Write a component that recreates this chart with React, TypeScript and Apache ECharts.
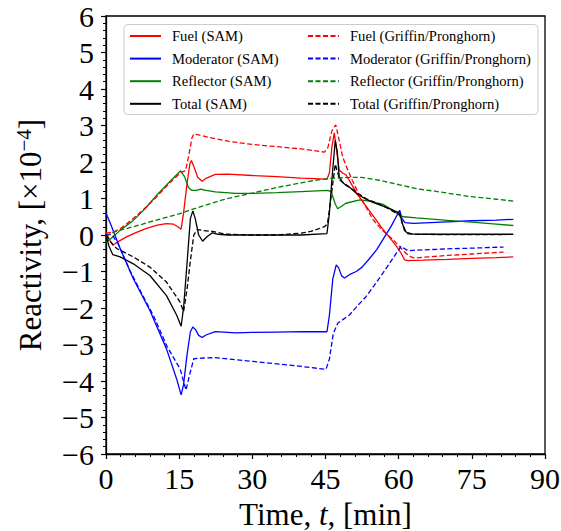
import React, { useEffect, useRef } from "react";
import * as echarts from "echarts";

type P = [number, number];

const xTicks = { min: 0, max: 90, interval: 15 };
const yTicks = { min: -6, max: 6, interval: 1 };

const fuelSAM: P[] = [[0,0.08],[0.6,-0.1],[1.4,-0.28],[2.5,-0.18],[4.2,-0.05],[6,0.06],[8.3,0.18],[10.5,0.27],[12.4,0.31],[13.8,0.3],[14.8,0.22],[15.4,0.16],[15.9,0.6],[16.6,1.4],[17.2,1.95],[17.5,2.04],[18,1.88],[18.8,1.58],[19.7,1.47],[20.6,1.56],[22.4,1.66],[25,1.67],[30,1.63],[35,1.6],[40,1.56],[45.3,1.53],[45.8,1.7],[46.3,2.4],[46.8,2.8],[47.3,2.3],[47.8,1.78],[48.5,1.7],[49.2,1.65],[50.2,1.42],[51.5,1.12],[53.3,0.79],[55,0.48],[56.8,0.15],[58.2,-0.08],[59.5,-0.3],[60.5,-0.5],[61.2,-0.68],[62,-0.7],[65,-0.69],[70,-0.67],[75,-0.64],[80,-0.62],[83.5,-0.6]];
const fuelGP: P[] = [[0,0.05],[1.5,0.08],[3,0.18],[5.6,0.45],[8,0.74],[10.4,1.05],[12.5,1.35],[14,1.55],[15.5,1.72],[16.3,1.76],[17,2.2],[17.6,2.65],[18,2.77],[19,2.74],[21,2.68],[25,2.57],[30,2.48],[35,2.42],[40,2.36],[44.8,2.27],[45.5,2.4],[46.3,2.85],[47.1,3.02],[47.8,2.6],[48.5,2.15],[49.2,1.9],[50.5,1.5],[52,1.07],[53.5,0.72],[54.7,0.43],[56.5,0.15],[58.8,-0.12],[60.4,-0.35],[61.5,-0.5],[62.5,-0.6],[63.3,-0.63],[66,-0.6],[70,-0.56],[75,-0.52],[80,-0.48],[81.5,-0.47]];
const modSAM: P[] = [[0,0.6],[1,0.28],[2.9,-0.37],[5.6,-1.2],[9,-2.07],[12.4,-3.12],[14.5,-3.95],[15.4,-4.38],[15.9,-4.1],[16.6,-3.3],[17.3,-2.65],[17.8,-2.52],[18.4,-2.6],[19,-2.75],[19.7,-2.81],[20.5,-2.74],[22.4,-2.65],[26.6,-2.68],[30,-2.67],[35,-2.66],[40,-2.65],[45.3,-2.65],[45.8,-2.2],[46.5,-1.2],[47.2,-0.82],[47.7,-0.9],[48.3,-1.12],[48.9,-1.18],[50,-1.08],[51.3,-1.0],[52.5,-0.88],[54,-0.65],[55.5,-0.4],[56.8,-0.12],[58.5,0.25],[60.2,0.68],[60.7,0.45],[61.3,0.34],[63,0.32],[70,0.36],[75,0.39],[80,0.41],[83.5,0.43]];
const modGP: P[] = [[0,0.0],[1.2,0.02],[2.5,-0.25],[5,-1.0],[7.5,-1.65],[9.7,-2.2],[12.5,-3.05],[15.2,-3.67],[16.4,-4.25],[17.2,-3.8],[18,-3.39],[20,-3.37],[22.4,-3.36],[26.6,-3.42],[30,-3.46],[35,-3.53],[40,-3.6],[45.1,-3.68],[45.8,-3.4],[46.6,-2.7],[47.5,-2.42],[49.9,-2.19],[51.5,-1.95],[53.3,-1.69],[55,-1.38],[56.8,-1.04],[58.5,-0.7],[60.5,-0.31],[61.9,-0.43],[63,-0.42],[70,-0.38],[75,-0.36],[81.5,-0.33]];
const reflSAM: P[] = [[0,-0.2],[1,-0.1],[3,0.14],[5.6,0.4],[8,0.72],[10.4,1.09],[13,1.45],[15.3,1.76],[16.1,1.6],[16.9,1.3],[17.6,1.22],[18.5,1.22],[19.4,1.26],[20.5,1.22],[22.4,1.18],[26.6,1.14],[30,1.14],[35,1.16],[40,1.19],[45.5,1.22],[46.2,1.18],[47,0.85],[47.5,0.72],[48.2,0.78],[49.2,0.87],[52,0.96],[54,0.93],[56.8,0.84],[58.5,0.7],[60.2,0.54],[61,0.5],[63.6,0.47],[70,0.4],[75,0.35],[80,0.3],[83.5,0.26]];
const reflGP: P[] = [[0,-0.05],[1,0.05],[2,0.1],[4,0.17],[6,0.24],[9,0.36],[12,0.47],[15,0.58],[17.2,0.68],[20,0.8],[23.5,0.95],[26.6,1.05],[30,1.15],[35,1.3],[40,1.43],[43,1.5],[46,1.55],[50,1.58],[52.3,1.58],[56,1.5],[60,1.38],[64,1.26],[67.4,1.2],[74.3,1.06],[80,0.98],[83.5,0.93]];
const totSAM: P[] = [[0,0],[0.6,-0.3],[1.4,-0.54],[2.9,-0.6],[5.6,-0.79],[9,-1.11],[12.4,-1.66],[14.5,-2.2],[15.4,-2.5],[15.9,-2.0],[16.6,-0.8],[17.3,0.45],[17.8,0.66],[18.3,0.45],[19,0.0],[19.8,-0.17],[20.7,-0.05],[21.8,0.06],[23,0.02],[25,0.0],[30,0.0],[35,0.0],[40,0.0],[45.3,0.04],[45.8,0.6],[46.3,1.5],[47,2.59],[47.4,2.3],[47.8,1.6],[48.5,1.44],[49.2,1.36],[50,1.3],[51.5,1.12],[53.3,0.98],[55,0.88],[56.8,0.79],[58.5,0.7],[60.2,0.6],[60.7,0.35],[61.2,0.12],[62,0.03],[65,0.02],[70,0.02],[75,0.02],[80,0.02],[83.5,0.02]];
const totGP: P[] = [[0,0],[1,-0.2],[2.2,-0.37],[5.6,-0.6],[9,-0.88],[12.4,-1.29],[15.2,-1.84],[15.9,-2.1],[16.6,-1.5],[17.4,-0.6],[18,0.0],[18.7,0.15],[20,0.12],[21.8,0.1],[23.5,0.05],[25,0.02],[30,0.0],[35,0.0],[40,0.05],[42,0.1],[44.7,0.22],[45.4,0.3],[46.2,1.1],[47,1.94],[47.5,1.7],[48,1.5],[49.2,1.38],[51.5,1.15],[53.3,1.0],[56.8,0.8],[60.2,0.55],[60.8,0.3],[61.5,0.08],[63,0.02],[70,0.01],[80,0.01],[82,0.01]];

const samNames = ["Fuel (SAM)", "Moderator (SAM)", "Reflector (SAM)", "Total (SAM)"];
const gpNames = ["Fuel (Griffin/Pronghorn)", "Moderator (Griffin/Pronghorn)", "Reflector (Griffin/Pronghorn)", "Total (Griffin/Pronghorn)"];
const colors = ["#ff0000", "#0000ff", "#008000", "#000000"];
const samData = [fuelSAM, modSAM, reflSAM, totSAM];
const gpData = [fuelGP, modGP, reflGP, totGP];

const FONT = "Liberation Serif";

export default function App() {
  const ref = useRef<HTMLDivElement>(null);
  useEffect(() => {
    if (!ref.current) return;
    const chart = echarts.init(ref.current, null, { renderer: "svg" });
    const mk = (name: string, data: P[], color: string, dashed: boolean) => ({
      name,
      type: "line",
      data,
      symbol: "none",
      showSymbol: false,
      smooth: false,
      lineStyle: { color, width: 1.3, type: dashed ? [5, 2.5] : "solid" },
      itemStyle: { color },
      z: 3,
    });
    const series: any[] = [];
    for (let i = 0; i < 4; i++) series.push(mk(samNames[i], samData[i], colors[i], false));
    for (let i = 0; i < 4; i++) series.push(mk(gpNames[i], gpData[i], colors[i], true));

    const legendCommon = {
      orient: "vertical",
      top: 28.5,
      itemWidth: 31,
      itemHeight: 14,
      itemGap: 7.6,
      padding: 0,
      z: 10,
      itemStyle: { opacity: 0 },
      textStyle: { fontFamily: FONT, fontSize: 14.6, color: "#000", padding: [0, 0, 0, 6] },
    };
    const fmt = (v: number) => (v < 0 ? "\u2212" + Math.abs(v) : String(v));
    chart.setOption({
      animation: false,
      backgroundColor: "#fff",
      textStyle: { fontFamily: FONT },
      grid: { left: 106, right: 16, top: 16, bottom: 77, outerBoundsMode: "none", containLabel: false, show: true, borderColor: "#000", borderWidth: 1.3, backgroundColor: "transparent" },
      legend: [
        { ...legendCommon, left: 129, data: samNames },
        { ...legendCommon, left: 307, data: gpNames },
      ],
      graphic: [
        { type: "rect", left: 123.5, top: 24, shape: { width: 414, height: 90, r: 4 }, style: { fill: "rgba(255,255,255,0.8)", stroke: "#cccccc", lineWidth: 1 }, z: 9 },
      ],
      xAxis: {
        type: "value",
        min: xTicks.min,
        max: xTicks.max,
        interval: xTicks.interval,
        name: "{a|Time, }{i|t}{a|, [min]}",
        nameLocation: "middle",
        nameGap: 45,
        nameTextStyle: {
          fontFamily: FONT,
          lineHeight: 30,
          rich: {
            a: { fontFamily: FONT, fontSize: 31, color: "#000", lineHeight: 30 },
            i: { fontFamily: FONT, fontSize: 31, fontStyle: "italic", color: "#000", lineHeight: 30 },
          },
        },
        axisLine: { onZero: false, lineStyle: { color: "#000", width: 1.3 } },
        axisTick: { length: 5, lineStyle: { color: "#000", width: 1.2 } },
        minorTick: { show: true, splitNumber: 5, length: 3, lineStyle: { color: "#000", width: 1 } },
        splitLine: { show: false },
        axisLabel: { fontFamily: FONT, fontSize: 30, color: "#000", margin: 9, formatter: fmt },
      },
      yAxis: {
        type: "value",
        min: yTicks.min,
        max: yTicks.max,
        interval: yTicks.interval,
        name: "{a|Reactivity, [\u00d710}{s|\u22124}{a|]}",
        nameLocation: "middle",
        nameGap: 58,
        nameRotate: 90,
        nameTextStyle: {
          fontFamily: FONT,
          rich: {
            a: { fontFamily: FONT, fontSize: 31, color: "#000", lineHeight: 35 },
            s: { fontFamily: FONT, fontSize: 21, color: "#000", verticalAlign: "top", lineHeight: 21 },
          },
        },
        axisLine: { onZero: false, lineStyle: { color: "#000", width: 1.3 } },
        axisTick: { length: 5, lineStyle: { color: "#000", width: 1.2 } },
        minorTick: { show: true, splitNumber: 5, length: 3, lineStyle: { color: "#000", width: 1 } },
        splitLine: { show: false },
        axisLabel: { fontFamily: FONT, fontSize: 30, color: "#000", margin: 12, formatter: fmt },
      },
      series,
    });
    return () => chart.dispose();
  }, []);
  return <div ref={ref} style={{ position: "fixed", left: 0, top: 0, width: 561, height: 531 }} />;
}
